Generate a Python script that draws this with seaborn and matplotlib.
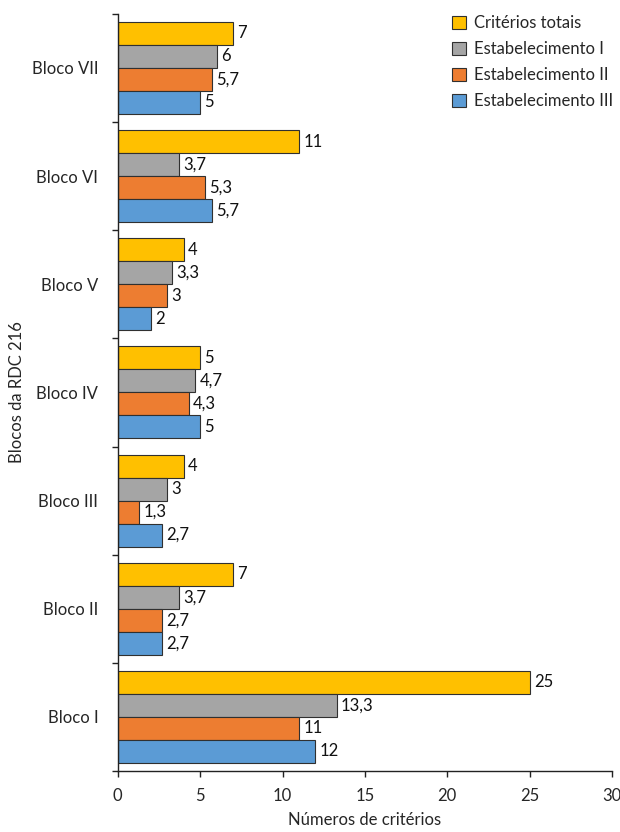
import matplotlib
matplotlib.use("Agg")
import matplotlib.pyplot as plt
import seaborn as sns
import pandas as pd
import numpy as np

blocos = ["Bloco VII", "Bloco VI", "Bloco V", "Bloco IV", "Bloco III", "Bloco II", "Bloco I"]
series = ["Critérios totais", "Estabelecimento I", "Estabelecimento II", "Estabelecimento III"]
criterios_totais = [7, 11, 4, 5, 4, 7, 25]
estab_1 = [6, 3.7, 3.3, 4.7, 3, 3.7, 13.3]
estab_2 = [5.7, 5.3, 3, 4.3, 1.3, 2.7, 11]
estab_3 = [5, 5.7, 2, 5, 2.7, 2.7, 12]
cores = ["#FFC000", "#A5A5A5", "#ED7D31", "#5B9BD5"]

rows = []
for nome, vals in zip(series, [criterios_totais, estab_1, estab_2, estab_3]):
    for b, v in zip(blocos, vals):
        rows.append({"Bloco": b, "Série": nome, "Valor": v})
df = pd.DataFrame(rows)

sns.set_style("white")
plt.rcParams["font.family"] = ["Lato", "DejaVu Sans"]
FS = 12

fig = plt.figure(figsize=(6.2, 8.32), dpi=100)
ax = fig.add_axes([0.19, 0.0733, 0.797, 0.910])

sns.barplot(data=df, y="Bloco", x="Valor", hue="Série", order=blocos,
            hue_order=series, palette=cores, orient="h", width=0.85,
            edgecolor="#303030", linewidth=0.8, saturation=1, ax=ax)

def fmt(v):
    s = f"{v:g}"
    return s.replace(".", ",")

for cont, vals in zip(ax.containers, [criterios_totais, estab_1, estab_2, estab_3]):
    ax.bar_label(cont, labels=[fmt(v) for v in vals], padding=3, fontsize=FS,
                 color="#111111")

ax.set_xlim(0, 30)
ax.set_ylim(len(blocos) - 0.5, -0.5)
ax.set_xticks([0, 5, 10, 15, 20, 25, 30])
ax.tick_params(axis="x", length=4, direction="out", labelsize=FS, bottom=True,
               color="#222222", width=1, pad=8)
ax.tick_params(axis="y", which="major", length=0, labelsize=FS, pad=14)
ax.set_yticks(np.arange(-0.5, len(blocos), 1), minor=True)
ax.tick_params(axis="y", which="minor", length=4, direction="out", left=True,
               color="#222222", width=1)

for s in ["top", "right"]:
    ax.spines[s].set_visible(False)
for s in ["left", "bottom"]:
    ax.spines[s].set_color("#222222")
    ax.spines[s].set_linewidth(1)

ax.set_xlabel("Números de critérios", fontsize=FS, labelpad=6)
ax.set_ylabel("Blocos da RDC 216", fontsize=FS, labelpad=5)

ax.legend(loc="upper left", bbox_to_anchor=(0.718, 0.99),
          bbox_transform=fig.transFigure, frameon=False, fontsize=FS,
          handlelength=0.85, handleheight=0.85, handletextpad=0.5,
          labelspacing=0.6, borderaxespad=0)

fig.savefig("out.png", dpi=100)
